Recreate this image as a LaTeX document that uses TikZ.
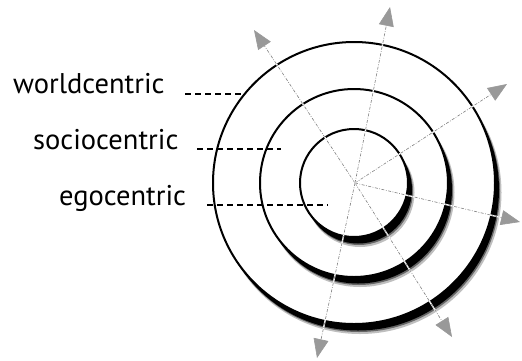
\documentclass[tikz,border=0pt]{standalone}
\usepackage{fontspec}
\setmainfont{PT Sans}
\usetikzlibrary{arrows.meta}
\begin{document}
\begin{tikzpicture}[x=1pt,y=-1pt,
  lbl/.style={anchor=base west,inner sep=0pt,font=\fontsize{28.5}{32}\selectfont},
  leader/.style={line width=2.2pt,dash pattern=on 6pt off 4pt},
  ring/.style={draw=black,line width=2pt,fill=white},
  shadowA/.style={fill=black!25},
  shadowB/.style={fill=black!60},
  shadowC/.style={fill=black},
  rayback/.style={white,line width=1.4pt},
  ray/.style={black!50,line width=0.6pt,dash pattern=on 3pt off 1.5pt on 0.8pt off 1.5pt,
    -{Triangle[length=19pt,width=15pt,fill=black!40,color=black!40]}}]
\useasboundingbox (0,0) rectangle (522,360);
% rings with drop shadows
\foreach \r in {141,94,54}{
  \fill[shadowA] (360,192.5) circle (\r+0.5);
  \fill[shadowB] (359,191) circle (\r);
  \fill[shadowC] (358,189.5) circle (\r);
  \draw[ring] (354,183) circle (\r);
}
% rays
\coordinate (c) at (355,183);
\coordinate (t1) at (254,30);
\coordinate (t2) at (390,7);
\coordinate (t3) at (507,84);
\coordinate (t4) at (520,222);
\coordinate (t5) at (452,337);
\coordinate (t6) at (317,358);
\foreach \t in {t1,t2,t3,t4,t5,t6}{
  \draw[rayback,shorten >=18pt] (c) -- (\t);
  \draw[ray] (c) -- (\t);
}
% labels
\node[lbl] (w) at (13,93) {worldcentric};
\node[lbl] (s) at (33,149) {sociocentric};
\node[lbl] (e) at (59,205) {egocentric};
\coordinate (w1) at (185,94);  \coordinate (w2) at (245,94);
\coordinate (s1) at (197,149); \coordinate (s2) at (281,149);
\coordinate (e1) at (207,205); \coordinate (e2) at (328,205);
\draw[leader] (w1) -- (w2);
\draw[leader] (s1) -- (s2);
\draw[leader] (e1) -- (e2);
\end{tikzpicture}
\end{document}
